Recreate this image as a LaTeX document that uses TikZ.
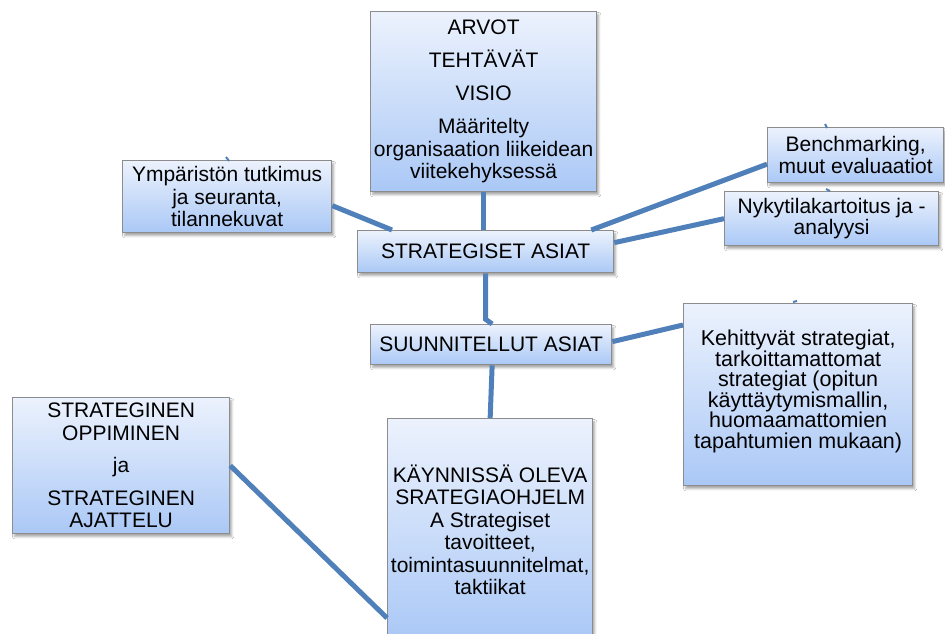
\documentclass[tikz,border=0pt]{standalone}
\usepackage{fontspec}
\setmainfont{Liberation Sans}
\usetikzlibrary{calc,shadows.blur}
\definecolor{boxtop}{RGB}{236,242,253}
\definecolor{boxbot}{RGB}{170,200,246}
\definecolor{boxline}{RGB}{140,140,140}
\definecolor{linkblue}{RGB}{80,128,186}
\tikzset{
  box/.style={rectangle, draw=boxline, line width=1.3pt, top color=boxtop, bottom color=boxbot,
    inner sep=0pt, align=center, anchor=north west,
    font=\fontsize{21}{22.5}\selectfont,
    blur shadow={shadow xshift=2pt, shadow yshift=-3pt, shadow blur steps=6, shadow opacity=35}},
  conn/.style={draw=linkblue, line width=5pt},
  stub/.style={draw=linkblue, line width=2pt}
}
\begin{document}
\begin{tikzpicture}[x=1pt, y=-1pt]
\clip (0,0) rectangle (945,634);
\fill[white] (0,0) rectangle (945,634);

% boxes
\node[box, minimum width=226, minimum height=180] (arvot) at (370,11)
  {ARVOT\\[10.5pt] TEHTÄVÄT\\[10.5pt] VISIO\\[10.5pt] Määritelty\\ organisaation liikeidean\\ viitekehyksessä};
\node[box, minimum width=209, minimum height=72] (ymp) at (122,160)
  {Ympäristön tutkimus\\ ja seuranta,\\ tilannekuvat};
\node[box, minimum width=176, minimum height=55, font=\fontsize{21}{22}\selectfont] (bench) at (767,127)
  {Benchmarking,\\ muut evaluaatiot};
\node[box, minimum width=214, minimum height=54, font=\fontsize{21}{21}\selectfont] (nyky) at (724,191)
  {Nykytilakartoitus ja -\\ analyysi};
\node[box, minimum width=256, minimum height=42] (strat) at (357,230)
  {STRATEGISET ASIAT};
\node[box, minimum width=241, minimum height=40] (suun) at (370,324)
  {SUUNNITELLUT ASIAT};
\node[box, minimum width=229, minimum height=182, font=\fontsize{21.5}{20.5}\selectfont] (keh) at (683,303)
  {Kehittyvät strategiat,\\ tarkoittamattomat\\ strategiat (opitun\\ käyttäytymismallin,\\ huomaamattomien\\ tapahtumien mukaan)\\[-10pt]\mbox{}};
\node[box, minimum width=217, minimum height=136] (strg) at (12,397)
  {STRATEGINEN\\ OPPIMINEN\\[10pt] ja\\[10pt] STRATEGINEN\\ AJATTELU};
\node[box, minimum width=205, minimum height=222] (kay) at (387,418)
  {KÄYNNISSÄ OLEVA\\ SRATEGIAOHJELM\\ A Strategiset\\ tavoitteet,\\ toimintasuunnitelmat,\\ taktiikat};

% short connector ends peeking out above some boxes
\draw[stub] ($(ymp.north west)+(104,-3)$) -- ($(ymp.north west)+(107,1)$);
\draw[stub] ($(bench.north west)+(58,-3)$) -- ($(bench.north west)+(60,1)$);
\draw[stub] ($(nyky.north west)+(102,-2)$) -- ($(nyky.north west)+(106,0)$);
\draw[stub] ($(keh.north west)+(110,-1)$) -- ($(keh.north west)+(114,-2)$);

% connectors
\draw[conn] (arvot.south) -- (arvot.south |- strat.north);
\draw[conn] ($(ymp.east)+(0,9)$) -- ($(strat.north west)+(35,0)$);
\draw[conn] ($(strat.north east)+(-23,0)$) -- ($(bench.west)+(0,9)$);
\draw[conn] ($(strat.east)+(0,-9)$) -- (nyky.west);
\draw[conn] (strat.south) -- ++(0,46) -- ($(suun.north)+(1,0)$);
\draw[conn] ($(suun.south)+(1,0)$) -- (kay.north);
\draw[conn] ($(suun.east)+(0,-3)$) -- ($(keh.north west)+(0,22)$);
\draw[conn] (strg.east) -- ($(kay.north west)+(0,200)$);
\end{tikzpicture}
\end{document}
